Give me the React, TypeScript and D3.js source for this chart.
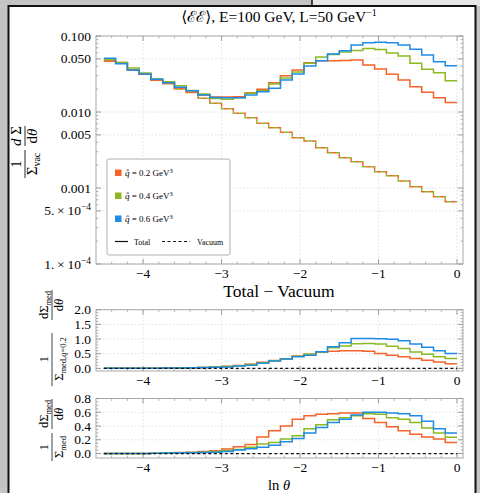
import React from 'react';
import * as d3 from 'd3';

// ---------- data ----------
const lnThetaEdges = [-4.5, -4.35, -4.2, -4.05, -3.9, -3.75, -3.6, -3.45, -3.3, -3.15, -3.0, -2.85, -2.7, -2.55, -2.4, -2.25, -2.1, -1.95, -1.8, -1.65, -1.5, -1.35, -1.2, -1.05, -0.9, -0.75, -0.6, -0.45, -0.3, -0.15, 0.0];

const totalQ02 = [0.0469, 0.0448, 0.0357, 0.0316, 0.0264, 0.0241, 0.0207, 0.0183, 0.0167, 0.0158, 0.0158, 0.0159, 0.0179, 0.0199, 0.0243, 0.0300, 0.0357, 0.0446, 0.0473, 0.0473, 0.0476, 0.0483, 0.0415, 0.0368, 0.0313, 0.0264, 0.0215, 0.0182, 0.0154, 0.0133];
const totalQ04 = [0.0491, 0.0448, 0.0379, 0.0326, 0.0272, 0.0251, 0.0222, 0.0192, 0.0173, 0.0151, 0.0147, 0.0154, 0.0176, 0.0191, 0.0234, 0.0280, 0.0336, 0.0437, 0.0529, 0.0571, 0.0616, 0.0644, 0.0685, 0.0664, 0.0598, 0.0545, 0.0437, 0.0364, 0.0329, 0.0258];
const totalQ06 = [0.0509, 0.0432, 0.0357, 0.0316, 0.0269, 0.0243, 0.0211, 0.0191, 0.0167, 0.0155, 0.0154, 0.0154, 0.0167, 0.0185, 0.0205, 0.0264, 0.0316, 0.0403, 0.0473, 0.0580, 0.0641, 0.0762, 0.0817, 0.0830, 0.0817, 0.0762, 0.0668, 0.0562, 0.0459, 0.0407];
const vacuum = [0.0470, 0.0445, 0.0356, 0.0314, 0.0262, 0.0236, 0.0200, 0.0180, 0.0152, 0.0130, 0.0110, 0.00961, 0.00841, 0.00710, 0.00621, 0.00540, 0.00459, 0.00415, 0.00339, 0.00291, 0.00251, 0.00222, 0.00191, 0.00164, 0.00145, 0.00124, 0.00104, 0.000893, 0.000768, 0.000660];

const medRelQ02 = [0, 0, 0, 0, 0.005, 0.01, 0.015, 0.02, 0.03, 0.05, 0.07, 0.10, 0.14, 0.21, 0.27, 0.33, 0.42, 0.48, 0.55, 0.58, 0.60, 0.60, 0.58, 0.51, 0.45, 0.40, 0.34, 0.28, 0.22, 0.16];
const medRelQ04 = [0, 0, 0, 0, 0.005, 0.01, 0.015, 0.02, 0.03, 0.05, 0.06, 0.09, 0.13, 0.19, 0.26, 0.33, 0.41, 0.48, 0.56, 0.70, 0.76, 0.84, 0.85, 0.83, 0.75, 0.68, 0.56, 0.48, 0.40, 0.34];
const medRelQ06 = [0, 0, 0, 0, 0.005, 0.01, 0.015, 0.02, 0.03, 0.04, 0.05, 0.08, 0.11, 0.17, 0.25, 0.32, 0.40, 0.45, 0.57, 0.74, 0.87, 1.02, 1.02, 1.01, 0.99, 0.94, 0.83, 0.72, 0.60, 0.51];

const medNormQ02 = [0, 0, 0, 0, 0.005, 0.01, 0.015, 0.02, 0.03, 0.04, 0.065, 0.10, 0.13, 0.24, 0.33, 0.40, 0.50, 0.55, 0.57, 0.58, 0.59, 0.59, 0.51, 0.45, 0.39, 0.33, 0.28, 0.24, 0.21, 0.16];
const medNormQ04 = [0, 0, 0, 0, 0.005, 0.01, 0.012, 0.015, 0.02, 0.03, 0.045, 0.06, 0.09, 0.14, 0.16, 0.21, 0.26, 0.36, 0.42, 0.49, 0.52, 0.55, 0.58, 0.57, 0.52, 0.50, 0.45, 0.37, 0.30, 0.235];
const medNormQ06 = [0, 0, 0, 0, 0.005, 0.008, 0.01, 0.012, 0.015, 0.02, 0.03, 0.05, 0.07, 0.09, 0.12, 0.17, 0.22, 0.30, 0.38, 0.45, 0.50, 0.56, 0.60, 0.60, 0.59, 0.58, 0.55, 0.47, 0.36, 0.30];

const zeroLine = [0, 0];

const xTicks = [-4, -3, -2, -1, 0];
const xTickLabels = ['\u22124', '\u22123', '\u22122', '\u22121', '0'];
const topYTicks = [0.1, 0.05, 0.01, 0.005, 0.001, 5e-4, 1e-4];
const topYLabels = ['0.100', '0.050', '0.010', '0.005', '0.001', '5.\u2009\u00d7\u200910', '1.\u2009\u00d7\u200910'];
const topYSup = ['', '', '', '', '', '\u22124', '\u22124'];
const midYTicks = [0, 0.5, 1.0, 1.5, 2.0];
const midYLabels = ['0.0', '0.5', '1.0', '1.5', '2.0'];
const botYTicks = [0, 0.2, 0.4, 0.6, 0.8];
const botYLabels = ['0.0', '0.2', '0.4', '0.6', '0.8'];

const seriesColors = ['#F5622A', '#8AB923', '#1E8BE6'];
const legendLabels = ['0.2', '0.4', '0.6'];

// ---------- layout ----------
const FL = 96, FR = 463;
const FONT = "'Liberation Serif', 'DejaVu Serif', serif";

const x = d3.scaleLinear().domain([-4.6, 0.076]).range([FL, FR]);
const yTop = d3.scaleLog().domain([1e-4, 0.1]).range([264, 36]);
const yMid = d3.scaleLinear().domain([-0.09, 2.0]).range([371, 309.7]);
const yBot = d3.scaleLinear().domain([-0.065, 0.8]).range([458, 398.5]);

function stepPath(vals: number[], y: (v: number) => number) {
  const pts: [number, number][] = vals.map((v, i) => [lnThetaEdges[i], v]);
  pts.push([lnThetaEdges[vals.length], vals[vals.length - 1]]);
  return d3.line<[number, number]>().x(d => x(d[0])).y(d => y(d[1])).curve(d3.curveStepAfter)(pts) || '';
}

const minorX: number[] = d3.range(-44, 1, 2).map(v => v / 10).filter(v => Math.abs(v - Math.round(v)) > 1e-6);

function Frame({ top, bottom, yTicksMajor, yTicksMinor, y }: { top: number; bottom: number; yTicksMajor: number[]; yTicksMinor: number[]; y: (v: number) => number }) {
  const tc = '#9a9a9a';
  return (
    <g>
      {xTicks.map(t => (
        <line key={'gx' + t} x1={x(t)} x2={x(t)} y1={top} y2={bottom} stroke="#d8d8d8" strokeWidth={0.8} strokeDasharray="1.5,2" />
      ))}
      {yTicksMajor.map(t => (
        <line key={'gy' + t} x1={FL} x2={FR} y1={y(t)} y2={y(t)} stroke="#d8d8d8" strokeWidth={0.8} strokeDasharray="1.5,2" />
      ))}
      <rect x={FL} y={top} width={FR - FL} height={bottom - top} fill="none" stroke="#a8a8a8" strokeWidth={1} />
      {xTicks.map(t => (
        <g key={'tx' + t}>
          <line x1={x(t)} x2={x(t)} y1={bottom} y2={bottom - 5} stroke={tc} />
          <line x1={x(t)} x2={x(t)} y1={top} y2={top + 5} stroke={tc} />
        </g>
      ))}
      {minorX.map(t => (
        <g key={'mx' + t}>
          <line x1={x(t)} x2={x(t)} y1={bottom} y2={bottom - 2.5} stroke={tc} strokeWidth={0.7} />
          <line x1={x(t)} x2={x(t)} y1={top} y2={top + 2.5} stroke={tc} strokeWidth={0.7} />
        </g>
      ))}
      {yTicksMajor.map(t => (
        <g key={'ty' + t}>
          <line x1={FL} x2={FL + 5} y1={y(t)} y2={y(t)} stroke={tc} />
          <line x1={FR} x2={FR - 5} y1={y(t)} y2={y(t)} stroke={tc} />
        </g>
      ))}
      {yTicksMinor.map(t => (
        <g key={'my' + t}>
          <line x1={FL} x2={FL + 2.5} y1={y(t)} y2={y(t)} stroke={tc} strokeWidth={0.7} />
          <line x1={FR} x2={FR - 2.5} y1={y(t)} y2={y(t)} stroke={tc} strokeWidth={0.7} />
        </g>
      ))}
    </g>
  );
}

function XLabels({ baseline }: { baseline: number }) {
  return (
    <g>
      {xTicks.map((t, i) => (
        <text key={t} x={x(t)} y={baseline} textAnchor="middle" fontSize={13.5} fontFamily={FONT}>{xTickLabels[i]}</text>
      ))}
    </g>
  );
}

export default function App() {
  const topMinor: number[] = [];
  [1e-4, 1e-3, 1e-2].forEach(d => [2, 3, 4, 6, 7, 8, 9].forEach(k => topMinor.push(k * d)));
  const midMinor = d3.range(1, 20).map(v => v / 10).filter(v => Math.abs(v * 2 - Math.round(v * 2)) > 1e-6);
  const botMinor = d3.range(1, 16).map(v => v / 20).filter(v => Math.abs(v * 5 - Math.round(v * 5)) > 1e-6);

  const totals = [totalQ02, totalQ04, totalQ06];
  const rel = [medRelQ02, medRelQ04, medRelQ06];
  const norm = [medNormQ02, medNormQ04, medNormQ06];

  const zeroPath = (y: (v: number) => number) =>
    d3.line<[number, number]>().x(d => x(d[0])).y(d => y(d[1]))([[lnThetaEdges[0], zeroLine[0]], [lnThetaEdges[30], zeroLine[1]]]) || '';

  const vacPath = stepPath(vacuum, yTop);

  return (
    <svg width={480} height={493} style={{ position: 'absolute', left: 0, top: 0, display: 'block' }} fontFamily={FONT}>
      <rect x={0} y={0} width={480} height={493} fill="#c4c4c4" />
      <rect x={312} y={0} width={168} height={6} fill="#e6e6e6" />
      <line x1={312} x2={312} y1={0} y2={6} stroke="#111" strokeWidth={1.5} />
      <rect x={8.5} y={6} width={467} height={492} fill="#ffffff" stroke="#111" strokeWidth={2} />

      {/* Title */}
      <text x={279} y={22} textAnchor="middle" fontSize={15.5}>
        {'\u27e8\u2130\u2130\u27e9, E=100 GeV, L=50 GeV'}
        <tspan dy={-6} fontSize={10}>{'\u22121'}</tspan>
      </text>

      {/* ---------- Top panel ---------- */}
      <Frame top={36} bottom={264} yTicksMajor={topYTicks} yTicksMinor={topMinor} y={yTop} />
      {topYTicks.map((t, i) => (
        <text key={t} x={91} y={yTop(t) + 4.5} textAnchor="end" fontSize={13.5}>
          {topYLabels[i]}
          {topYSup[i] && <tspan dy={-5} fontSize={9.5}>{topYSup[i]}</tspan>}
        </text>
      ))}
      <XLabels baseline={278} />
      {/* vacuum dashed: orange and green dashes interleaved */}
      <path d={vacPath} fill="none" stroke={seriesColors[1]} strokeWidth={1.5} strokeDasharray="4,4" strokeDashoffset={4} />
      <path d={vacPath} fill="none" stroke={seriesColors[0]} strokeWidth={1.5} strokeDasharray="4,4" />
      {totals.map((s, i) => (
        <path key={i} d={stepPath(s, yTop)} fill="none" stroke={seriesColors[i]} strokeWidth={1.5} />
      ))}

      {/* legend */}
      <rect x={107} y={159} width={123} height={96} rx={2} fill="#ffffff" stroke="#b0b0b0" strokeWidth={1} />
      {legendLabels.map((l, i) => (
        <g key={l}>
          <rect x={115} y={169.5 + i * 23} width={6.5} height={6.5} fill={seriesColors[i]} />
          <text x={125} y={176 + i * 23} fontSize={9}>
            <tspan fontStyle="italic">{'q\u0302'}</tspan>{' = ' + l + ' GeV'}
            <tspan dy={-3.5} fontSize={6.5}>3</tspan>
          </text>
        </g>
      ))}
      <line x1={115} x2={128} y1={241.5} y2={241.5} stroke="#111" strokeWidth={1.2} />
      <text x={134} y={244.5} fontSize={8}>Total</text>
      <line x1={162} x2={190} y1={241.5} y2={241.5} stroke="#111" strokeWidth={1.2} strokeDasharray="3,2.5" />
      <text x={197} y={244.5} fontSize={8}>Vacuum</text>

      {/* y label top */}
      <g transform="translate(25,149) rotate(-90)" fontSize={15}>
        <text x={-15} y={-4} textAnchor="middle">1</text>
        <line x1={-29} x2={-1} y1={0} y2={0} stroke="#111" strokeWidth={0.9} />
        <text x={-15} y={12} textAnchor="middle">{'\u03a3'}<tspan fontSize={10} dy={3}>vac</tspan></text>
        <text x={13} y={-4} textAnchor="middle"><tspan fontStyle="italic">d</tspan>{' \u03a3'}</text>
        <line x1={3} x2={23} y1={0} y2={0} stroke="#111" strokeWidth={0.9} />
        <text x={13} y={12} textAnchor="middle">d<tspan fontStyle="italic">{'\u03b8'}</tspan></text>
      </g>

      <text x={279} y={297} textAnchor="middle" fontSize={17.5}>{'Total \u2212 Vacuum'}</text>

      {/* ---------- Middle panel ---------- */}
      <Frame top={309.7} bottom={371} yTicksMajor={midYTicks} yTicksMinor={midMinor} y={yMid} />
      {midYTicks.map((t, i) => (
        <text key={t} x={91} y={yMid(t) + 4.5} textAnchor="end" fontSize={13.5}>{midYLabels[i]}</text>
      ))}
      <XLabels baseline={385} />
      {rel.map((s, i) => (
        <path key={i} d={stepPath(s, yMid)} fill="none" stroke={seriesColors[i]} strokeWidth={1.5} />
      ))}
      <path d={zeroPath(yMid)} stroke="#111" strokeWidth={1.2} strokeDasharray="3,2.5" fill="none" />
      <g transform="translate(52,334) rotate(-90)" fontSize={12.5}>
        <text x={-25} y={-4} textAnchor="middle">1</text>
        <line x1={-52} x2={1} y1={0} y2={0} stroke="#111" strokeWidth={0.8} />
        <text x={-25} y={11} textAnchor="middle">{'\u03a3'}<tspan fontSize={8.5} dy={3}>{'med,'}</tspan><tspan fontSize={8.5} fontStyle="italic">q</tspan><tspan fontSize={8.5}>=0.2</tspan></text>
        <text x={29} y={-4} textAnchor="middle">{'d\u03a3'}<tspan fontSize={8.5} dy={3}>med</tspan></text>
        <line x1={14} x2={44} y1={0} y2={0} stroke="#111" strokeWidth={0.8} />
        <text x={29} y={11} textAnchor="middle">d<tspan fontStyle="italic">{'\u03b8'}</tspan></text>
      </g>

      {/* ---------- Bottom panel ---------- */}
      <Frame top={398.5} bottom={458} yTicksMajor={botYTicks} yTicksMinor={botMinor} y={yBot} />
      {botYTicks.map((t, i) => (
        <text key={t} x={91} y={yBot(t) + 4.5} textAnchor="end" fontSize={13.5}>{botYLabels[i]}</text>
      ))}
      <XLabels baseline={472} />
      {norm.map((s, i) => (
        <path key={i} d={stepPath(s, yBot)} fill="none" stroke={seriesColors[i]} strokeWidth={1.5} />
      ))}
      <path d={zeroPath(yBot)} stroke="#111" strokeWidth={1.2} strokeDasharray="3,2.5" fill="none" />
      <g transform="translate(52,431) rotate(-90)" fontSize={12.5}>
        <text x={-16} y={-4} textAnchor="middle">1</text>
        <line x1={-30} x2={-2} y1={0} y2={0} stroke="#111" strokeWidth={0.8} />
        <text x={-16} y={11} textAnchor="middle">{'\u03a3'}<tspan fontSize={8.5} dy={3}>med</tspan></text>
        <text x={17} y={-4} textAnchor="middle">{'d\u03a3'}<tspan fontSize={8.5} dy={3}>med</tspan></text>
        <line x1={2} x2={32} y1={0} y2={0} stroke="#111" strokeWidth={0.8} />
        <text x={17} y={11} textAnchor="middle">d<tspan fontStyle="italic">{'\u03b8'}</tspan></text>
      </g>

      <text x={279} y={490} textAnchor="middle" fontSize={14.5}>ln <tspan fontStyle="italic">{'\u03b8'}</tspan></text>
    </svg>
  );
}
